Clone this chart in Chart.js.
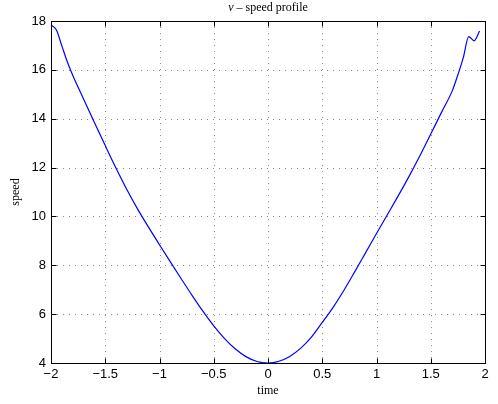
<!DOCTYPE html>
<html>
<head>
<meta charset="utf-8">
<script src="https://cdn.jsdelivr.net/npm/chart.js@4/dist/chart.umd.min.js"></script>
<style>
  html, body { margin: 0; padding: 0; background: #fff; }
  #wrap { width: 498px; height: 404px; }
</style>
</head>
<body>
<div id="wrap"><canvas id="c" width="498" height="404"></canvas></div>
<script>
// Speed profile sampled over time
const time = [-2.0, -1.95, -1.9, -1.85, -1.8, -1.7, -1.6, -1.5, -1.4, -1.3, -1.2, -1.1, -1.0, -0.9, -0.8, -0.7, -0.6, -0.5, -0.4, -0.3, -0.2, -0.1, 0.0, 0.1, 0.2, 0.3, 0.4, 0.5, 0.6, 0.7, 0.8, 0.9, 1.0, 1.1, 1.2, 1.3, 1.4, 1.5, 1.6, 1.7, 1.75, 1.8, 1.85, 1.9, 1.95];
const speed = [17.84, 17.63, 16.98, 16.33, 15.78, 14.81, 13.85, 12.90, 11.97, 11.09, 10.29, 9.55, 8.84, 8.14, 7.45, 6.77, 6.12, 5.52, 5.00, 4.57, 4.25, 4.06, 4.0, 4.07, 4.27, 4.60, 5.06, 5.66, 6.28, 6.98, 7.74, 8.52, 9.30, 10.07, 10.84, 11.64, 12.48, 13.37, 14.27, 15.16, 15.80, 16.50, 17.36, 17.19, 17.59];

const xTicks = [-2, -1.5, -1, -0.5, 0, 0.5, 1, 1.5, 2];
const yTicks = [4, 6, 8, 10, 12, 14, 16, 18];
const titleSymbol = 'ν';
const titleRest = ' – speed profile';

const points = time.map((t, i) => ({ x: t, y: speed[i] }));
const fmt = v => (v < 0 ? '\u2212' + String(-v) : String(v));

// Dotted grid, boxed frame with inward ticks on all sides, and the title
const frame = {
  id: 'frame',
  beforeDatasetsDraw(chart) {
    const { ctx, chartArea: a, scales: { x, y } } = chart;
    ctx.save();
    ctx.strokeStyle = '#8a8a8a';
    ctx.lineWidth = 1;
    ctx.setLineDash([1, 5]);
    xTicks.forEach(v => {
      const px = Math.round(x.getPixelForValue(v)) + 0.5;
      ctx.beginPath(); ctx.moveTo(px, a.top); ctx.lineTo(px, a.bottom); ctx.stroke();
    });
    yTicks.forEach(v => {
      const py = Math.round(y.getPixelForValue(v)) + 0.5;
      ctx.beginPath(); ctx.moveTo(a.left, py); ctx.lineTo(a.right, py); ctx.stroke();
    });
    ctx.restore();
  },
  afterDatasetsDraw(chart) {
    const { ctx, chartArea: a, scales: { x, y } } = chart;
    const L = Math.round(a.left) + 0.5, R = Math.round(a.right) + 0.5;
    const T = Math.round(a.top) + 0.5, B = Math.round(a.bottom) + 0.5;
    ctx.save();
    ctx.strokeStyle = '#000';
    ctx.lineWidth = 1;
    ctx.setLineDash([]);
    const tl = 5;
    xTicks.forEach(v => {
      const px = Math.round(x.getPixelForValue(v)) + 0.5;
      ctx.beginPath(); ctx.moveTo(px, B); ctx.lineTo(px, B - tl); ctx.stroke();
      ctx.beginPath(); ctx.moveTo(px, T); ctx.lineTo(px, T + tl); ctx.stroke();
    });
    yTicks.forEach(v => {
      const py = Math.round(y.getPixelForValue(v)) + 0.5;
      ctx.beginPath(); ctx.moveTo(L, py); ctx.lineTo(L + tl, py); ctx.stroke();
      ctx.beginPath(); ctx.moveTo(R, py); ctx.lineTo(R - tl, py); ctx.stroke();
    });
    ctx.strokeRect(L, T, R - L, B - T);

    // Title: italic Greek symbol followed by upright text
    ctx.fillStyle = '#000';
    ctx.textBaseline = 'middle';
    ctx.textAlign = 'left';
    const italic = 'italic 12px "Liberation Serif", serif';
    const upright = '12px "Liberation Serif", serif';
    ctx.font = italic;
    const w1 = ctx.measureText(titleSymbol).width;
    ctx.font = upright;
    const w2 = ctx.measureText(titleRest).width;
    const x0 = (a.left + a.right) / 2 - (w1 + w2) / 2;
    ctx.font = italic;
    ctx.fillText(titleSymbol, x0, 8);
    ctx.font = upright;
    ctx.fillText(titleRest, x0 + w1, 8);
    ctx.restore();
  }
};

new Chart(document.getElementById('c'), {
  type: 'scatter',
  data: {
    datasets: [{
      data: points,
      showLine: true,
      borderColor: '#0000ff',
      borderWidth: 1.2,
      pointRadius: 0,
      cubicInterpolationMode: 'monotone',
      fill: false
    }]
  },
  options: {
    responsive: false,
    animation: false,
    events: [],
    layout: { padding: { top: 21, right: 13, left: 0, bottom: 0 } },
    plugins: { legend: { display: false }, tooltip: { enabled: false }, title: { display: false } },
    scales: {
      x: {
        type: 'linear',
        min: -2, max: 2,
        afterBuildTicks: s => { s.ticks = xTicks.map(v => ({ value: v })); },
        afterFit: s => { s.height = 41; },
        grid: { display: false, drawTicks: false },
        border: { display: false },
        ticks: {
          padding: 4,
          color: '#000',
          font: { family: '"Liberation Sans", Arial, sans-serif', size: 13 },
          callback: v => fmt(v),
          maxRotation: 0,
          autoSkip: false
        },
        title: {
          display: true,
          text: 'time',
          color: '#000',
          font: { family: '"Liberation Serif", serif', size: 12 },
          padding: { top: 0, bottom: 6 }
        }
      },
      y: {
        type: 'linear',
        min: 4, max: 18,
        afterBuildTicks: s => { s.ticks = yTicks.map(v => ({ value: v })); },
        afterFit: s => { s.width = 51; },
        grid: { display: false, drawTicks: false },
        border: { display: false },
        ticks: {
          padding: 5,
          color: '#000',
          font: { family: '"Liberation Sans", Arial, sans-serif', size: 13 },
          callback: v => fmt(v),
          autoSkip: false
        },
        title: {
          display: true,
          text: 'speed',
          color: '#000',
          font: { family: '"Liberation Serif", serif', size: 12 },
          padding: { top: 9, bottom: 0 }
        }
      }
    }
  },
  plugins: [frame]
});
</script>
</body>
</html>
